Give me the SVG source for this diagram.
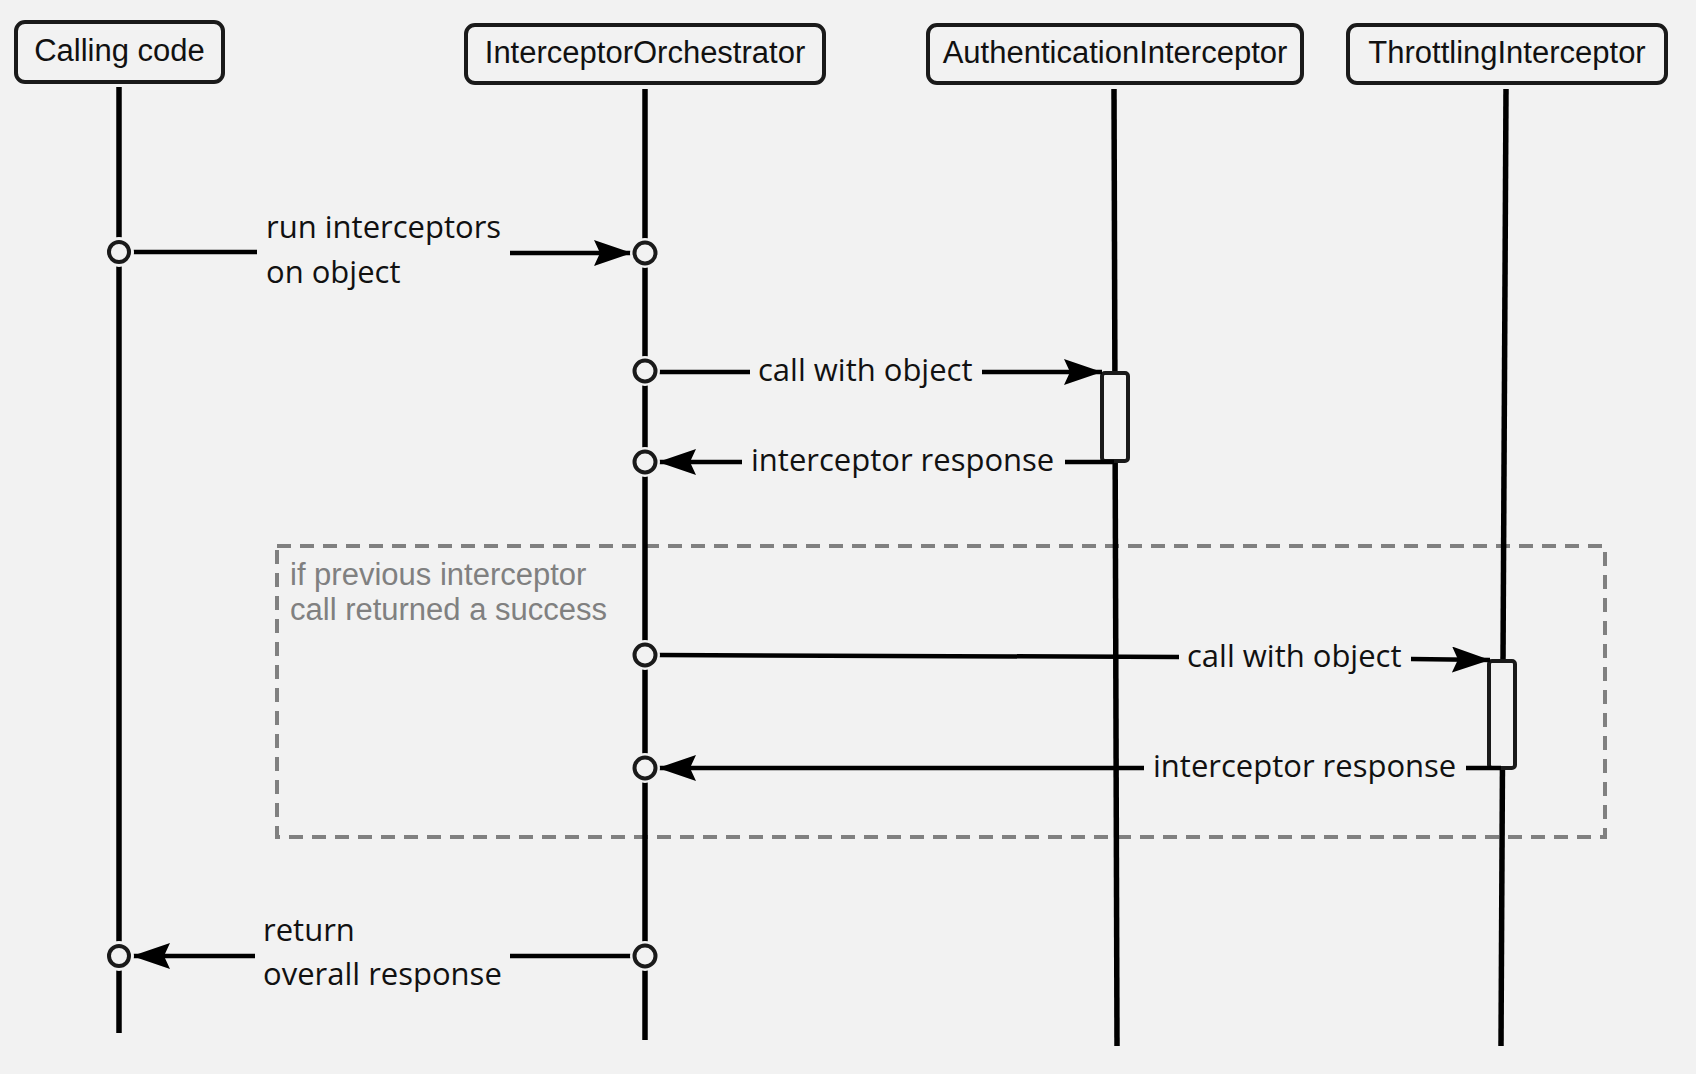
<svg xmlns="http://www.w3.org/2000/svg" width="1696" height="1074" viewBox="0 0 1696 1074">
<style>
.node rect{fill:#f2f2f2;stroke:#1a1a1a;stroke-width:4}
.node text{font-family:"Liberation Sans",Arial,sans-serif;font-size:31px;fill:#111;text-anchor:middle}
.life{stroke:#000;stroke-width:5.5;fill:none}
.msg{stroke:#000;stroke-width:4.5;fill:none}
.lbl{font-family:"Open Sans","Noto Sans",sans-serif;font-size:31px;fill:#111}
.dot{fill:#f2f2f2;stroke:#1a1a1a;stroke-width:4}
.gap{fill:#f2f2f2}
.act{fill:#f2f2f2;stroke:#1a1a1a;stroke-width:4}
.frame{fill:none;stroke:#808080;stroke-width:4;stroke-dasharray:14 9}
.ftxt{font-family:"Liberation Sans",Arial,sans-serif;font-size:31px;fill:#808080}
</style>
<defs>
<marker id="ah" markerUnits="userSpaceOnUse" markerWidth="42" markerHeight="28" refX="38" refY="13" orient="auto">
<path d="M0,0 L38,13 L0,26 L6,13 z" fill="#000"/>
</marker>
</defs>
<rect width="1696" height="1074" fill="#f2f2f2"/>

<g id="frame-if">
<rect class="frame" x="277" y="546" width="1328" height="291"/>
<text class="ftxt" x="290" y="585">if previous interceptor</text>
<text class="ftxt" x="290" y="620">call returned a success</text>
</g>

<g id="lifelines">
<line class="life" x1="119" y1="87" x2="119" y2="1033"/>
<line class="life" x1="645" y1="89" x2="645" y2="1040"/>
<line class="life" x1="1114" y1="89" x2="1117" y2="1046"/>
<line class="life" x1="1506" y1="89" x2="1501" y2="1046"/>
</g>

<g id="node-calling" class="node">
<rect x="16" y="22" width="207" height="60" rx="9"/>
<text x="119.5" y="61">Calling code</text>
</g>
<g id="node-orchestrator" class="node">
<rect x="466" y="25" width="358" height="58" rx="9"/>
<text x="645" y="63">InterceptorOrchestrator</text>
</g>
<g id="node-auth" class="node">
<rect x="928" y="25" width="374" height="58" rx="9"/>
<text x="1115" y="63">AuthenticationInterceptor</text>
</g>
<g id="node-throttling" class="node">
<rect x="1348" y="25" width="318" height="58" rx="9"/>
<text x="1507" y="63">ThrottlingInterceptor</text>
</g>

<g id="activations">
<rect class="act" x="1102" y="373" width="26" height="88" rx="3"/>
<rect class="act" x="1489" y="661" width="26" height="107" rx="3"/>
</g>

<g id="connectors">
<line class="msg" x1="131" y1="252" x2="257" y2="252"/>
<line class="msg" x1="510" y1="253" x2="632" y2="253" marker-end="url(#ah)"/>
<text class="lbl" x="266" y="238">run interceptors</text>
<text class="lbl" x="266" y="283">on object</text>
<line class="msg" x1="658" y1="372" x2="750" y2="372"/>
<line class="msg" x1="982" y1="372" x2="1102" y2="372" marker-end="url(#ah)"/>
<text class="lbl" x="758" y="381">call with object</text>
<line class="msg" x1="1114" y1="462" x2="1065" y2="462"/>
<line class="msg" x1="742" y1="462" x2="658" y2="462" marker-end="url(#ah)"/>
<text class="lbl" x="751" y="471">interceptor response</text>
<line class="msg" x1="658" y1="655" x2="1179" y2="657"/>
<line class="msg" x1="1411" y1="659" x2="1490" y2="660" marker-end="url(#ah)"/>
<text class="lbl" x="1187" y="667">call with object</text>
<line class="msg" x1="1501" y1="768" x2="1466" y2="768"/>
<line class="msg" x1="1144" y1="768" x2="658" y2="768" marker-end="url(#ah)"/>
<text class="lbl" x="1153" y="777">interceptor response</text>
<line class="msg" x1="632" y1="956" x2="510" y2="956"/>
<line class="msg" x1="255" y1="956" x2="132" y2="956" marker-end="url(#ah)"/>
<text class="lbl" x="263" y="941">return</text>
<text class="lbl" x="263" y="985">overall response</text>
</g>

<g id="endpoints">
<circle class="gap" cx="119" cy="252" r="15"/><circle class="dot" cx="119" cy="252" r="10"/>
<circle class="gap" cx="645" cy="253" r="15"/><circle class="dot" cx="645" cy="253" r="10.5"/>
<circle class="gap" cx="645" cy="371" r="15"/><circle class="dot" cx="645" cy="371" r="10.5"/>
<circle class="gap" cx="645" cy="462" r="15"/><circle class="dot" cx="645" cy="462" r="10.5"/>
<circle class="gap" cx="645" cy="655" r="15"/><circle class="dot" cx="645" cy="655" r="10.5"/>
<circle class="gap" cx="645" cy="768" r="15"/><circle class="dot" cx="645" cy="768" r="10.5"/>
<circle class="gap" cx="645" cy="956" r="15"/><circle class="dot" cx="645" cy="956" r="10.5"/>
<circle class="gap" cx="119" cy="956" r="15"/><circle class="dot" cx="119" cy="956" r="10"/>
</g>
</svg>
